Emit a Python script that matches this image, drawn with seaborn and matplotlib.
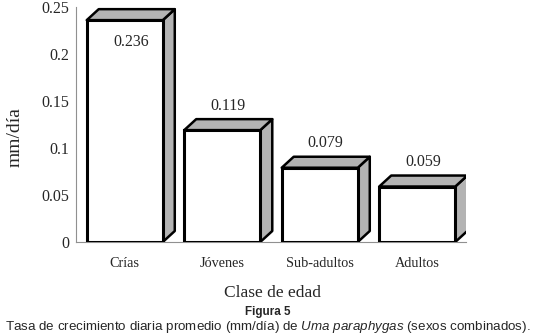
import numpy as np
import pandas as pd
import matplotlib
matplotlib.use("Agg")
import matplotlib.pyplot as plt
from matplotlib.patches import Polygon
import seaborn as sns

# data
clases = ["Crías", "Jóvenes", "Sub-adultos", "Adultos"]
tasa = [0.236, 0.119, 0.079, 0.059]
y_ticks = [0, 0.05, 0.1, 0.15, 0.2, 0.25]
y_tick_labels = ["0", "0.05", "0.1", "0.15", "0.2", "0.25"]

df = pd.DataFrame({"Clase": clases, "Tasa": tasa})

sns.set_style("white")
plt.rcParams["font.family"] = ["Liberation Serif", "DejaVu Serif"]
plt.rcParams["mathtext.fontset"] = "custom"
plt.rcParams["mathtext.rm"] = "Liberation Sans"
plt.rcParams["mathtext.it"] = "Liberation Sans:italic"

W, H = 534, 336
fig = plt.figure(figsize=(W / 100, H / 100), dpi=100)
ax_l, ax_r, ax_t, ax_b = 76, 466, 7, 242
ax = fig.add_axes([ax_l / W, 1 - ax_b / H, (ax_r - ax_l) / W, (ax_b - ax_t) / H])

sns.barplot(data=df, x="Clase", y="Tasa", color="white", width=0.78,
            edgecolor="black", linewidth=2.2, saturation=1, ax=ax, zorder=3)

ax.set_xlim(-0.5, len(clases) - 0.5)
ax.set_ylim(0, 0.25)

# 3D depth offset (12 px right, 11 px up) in data units
dx = 12 * len(clases) / (ax_r - ax_l)
dy = 11 * 0.25 / (ax_b - ax_t)

for i, p in enumerate(ax.patches):
    x0 = p.get_x()
    x1 = x0 + p.get_width()
    h = p.get_height()
    side = Polygon([(x1, 0), (x1 + dx, dy), (x1 + dx, h + dy), (x1, h)],
                   closed=True, facecolor="#b3b3b3", edgecolor="black",
                   linewidth=1.8, zorder=2, joinstyle="round")
    top = Polygon([(x0, h), (x0 + dx, h + dy), (x1 + dx, h + dy), (x1, h)],
                  closed=True, facecolor="#b3b3b3", edgecolor="black",
                  linewidth=1.8, zorder=2, joinstyle="round")
    ax.add_patch(side)
    ax.add_patch(top)
    xc = x0 + p.get_width() / 2 + dx / 2
    if h + 0.035 > 0.25:
        ax.text(xc, h - 0.0235, f"{tasa[i]:.3f}", ha="center", va="center", fontsize=11.5)
    else:
        ax.text(xc, h + 0.026, f"{tasa[i]:.3f}", ha="center", va="center", fontsize=11.5)

# axes styling
for s in ["top", "right"]:
    ax.spines[s].set_visible(False)
for s in ["left", "bottom"]:
    ax.spines[s].set_color("#909090")
    ax.spines[s].set_linewidth(0.8)
ax.spines["left"].set_zorder(1)

ax.set_yticks(y_ticks)
ax.set_yticklabels(y_tick_labels, fontsize=11.5)
ax.tick_params(axis="y", direction="out", length=4, width=0.8, color="#909090", pad=1)

ax.set_xticks(range(len(clases)))
ax.set_xticklabels(clases, fontsize=10.3)
ax.set_xticks(np.arange(len(clases) + 1) - 0.5, minor=True)
ax.tick_params(axis="x", which="major", length=0, pad=11)
ax.tick_params(axis="x", which="minor", direction="out", length=4, width=0.8, color="#909090")

ax.set_ylabel("")
ax.set_xlabel("")

fig.text(15 / W, 1 - 137 / H, "mm/día", rotation=90, ha="center", va="center", fontsize=14)
fig.text(272 / W, 1 - 293 / H, "Clase de edad", ha="center", va="center", fontsize=12.5)
fig.text(268 / W, 1 - 312 / H, "Figura 5", ha="center", va="center", fontsize=8.4,
         family="Liberation Sans", weight="bold")
fig.text(268 / W, 1 - 327 / H,
         r"Tasa de crecimiento diaria promedio (mm/día) de $\mathit{Uma\ paraphygas}$ (sexos combinados).",
         ha="center", va="center", fontsize=9.65, family="Liberation Sans")

fig.savefig("out.png", dpi=100)
